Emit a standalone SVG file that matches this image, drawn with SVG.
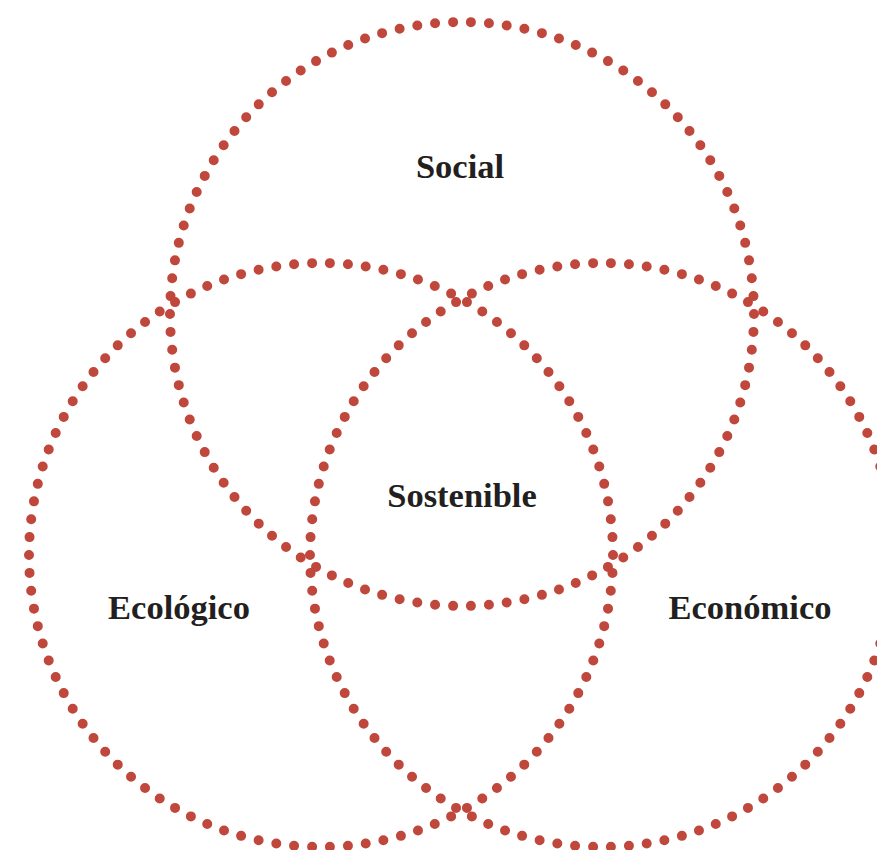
<svg xmlns="http://www.w3.org/2000/svg" width="877" height="850" viewBox="0 0 877 850">
  <style>
    .ring { fill: none; stroke: #c0473b; stroke-width: 10; stroke-linecap: round; stroke-dasharray: 0 1; }
    .label { font-family: "Liberation Serif", "DejaVu Serif", serif; font-weight: bold; font-size: 34.5px; fill: #231f20; text-anchor: middle; }
  </style>
  <rect width="877" height="850" fill="#ffffff"/>
  <g id="rings">
    <g id="social"><circle class="ring" cx="462" cy="314" r="292" pathLength="102"/></g>
    <g id="ecologico"><circle class="ring" cx="321" cy="555" r="292" pathLength="102"/></g>
    <g id="economico"><circle class="ring" cx="602" cy="555" r="292" pathLength="102"/></g>
  </g>
  <g id="labels">
    <text class="label" x="460" y="178">Social</text>
    <text class="label" x="462" y="507">Sostenible</text>
    <text class="label" x="179" y="619">Ecológico</text>
    <text class="label" x="750" y="619">Económico</text>
  </g>
</svg>
